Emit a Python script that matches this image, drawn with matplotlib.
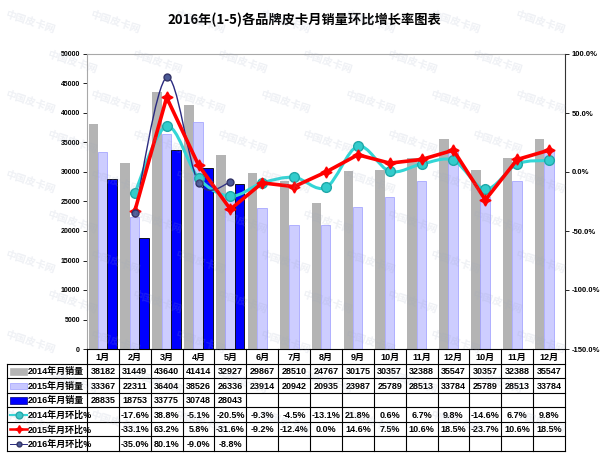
import matplotlib.pyplot as plt
import numpy as np
from matplotlib.path import Path
from matplotlib.patches import PathPatch, Rectangle
from matplotlib.lines import Line2D

plt.rcParams['font.family'] = ['Liberation Sans', 'Noto Sans CJK SC', 'DejaVu Sans']
plt.rcParams['font.weight'] = 'bold'

# data
months = ['1月', '2月', '3月', '4月', '5月', '6月', '7月', '8月', '9月',
          '10月', '11月', '12月', '10月', '11月', '12月']
sales_2014 = [38182, 31449, 43640, 41414, 32927, 29867, 28510, 24767, 30175,
              30357, 32388, 35547, 30357, 32388, 35547]
sales_2015 = [33367, 22311, 36404, 38526, 26336, 23914, 20942, 20935, 23987,
              25789, 28513, 33784, 25789, 28513, 33784]
sales_2016 = [28835, 18753, 33775, 30748, 28043]
mom_2014 = [None, -17.6, 38.8, -5.1, -20.5, -9.3, -4.5, -13.1, 21.8, 0.6,
            6.7, 9.8, -14.6, 6.7, 9.8]
mom_2015 = [None, -33.1, 63.2, 5.8, -31.6, -9.2, -12.4, 0.0, 14.6, 7.5,
            10.6, 18.5, -23.7, 10.6, 18.5]
mom_2016 = [None, -35.0, 80.1, -9.0, -8.8]
row_labels = ['2014年月销量', '2015年月销量', '2016年月销量',
              '2014年月环比%', '2015年月环比%', '2016年月环比%']
title = '2016年(1-5)各品牌皮卡月销量环比增长率图表'

W, H = 600, 458
CAT = (565 - 87) / 15.0


def box(x0, y0, x1, y1):
    return [x0 / W, 1 - y1 / H, (x1 - x0) / W, (y1 - y0) / H]


def smooth_path(xs, ys, t=1 / 6.0):
    # bezier curve through the points (like excel's smoothed line)
    pts = np.column_stack([xs, ys]).astype(float)
    verts = [pts[0]]
    codes = [Path.MOVETO]
    for i in range(len(pts) - 1):
        p0 = pts[max(i - 1, 0)]
        p1 = pts[i]
        p2 = pts[i + 1]
        p3 = pts[min(i + 2, len(pts) - 1)]
        verts += [p1 + (p2 - p0) * t, p2 - (p3 - p1) * t, p2]
        codes += [Path.CURVE4] * 3
    return Path(verts, codes)


fig = plt.figure(figsize=(6, 4.58), dpi=100)
fig.patch.set_facecolor('white')

fig.text(304 / W, 1 - 20 / H, title, ha='center', va='center', fontsize=9.5,
         fontweight='bold', family=['Noto Sans CJK SC', 'DejaVu Sans'])

ax = fig.add_axes(box(87, 54, 565, 349))
ax2 = ax.twinx()
n = len(months)
x = np.arange(n) + 0.5

ax.bar(x - 0.3, sales_2014, 0.3, color='#B4B4B4', zorder=2)
ax.bar(x - 0.01, sales_2015, 0.3, color='#C8C8FF', edgecolor='#A0A0FF',
       linewidth=0.6, alpha=0.9, zorder=3)
ax.bar(x[:len(sales_2016)] + 0.29, sales_2016, 0.3, color='#0000FF',
       edgecolor='black', linewidth=0.6, zorder=4)

ax.set_xlim(0, n)
ax.set_ylim(0, 50000)
ax.set_yticks(range(0, 50001, 5000))
ax.set_xticks([])
ax.tick_params(axis='y', labelsize=5, length=3, width=0.6, pad=2)
for s in ['left', 'top']:
    ax.spines[s].set_color('#A8A8A8')
ax.spines['bottom'].set_visible(False)
ax.spines['right'].set_visible(False)

ax2.set_ylim(-150, 100)
ax2.set_yticks([-150, -100, -50, 0, 50, 100])
ax2.set_yticklabels(['%.1f%%' % v for v in [-150, -100, -50, 0, 50, 100]])
ax2.tick_params(axis='y', labelsize=5.5, length=3, width=0.6, pad=2)
ax2.spines['right'].set_color('#333333')
ax2.spines['left'].set_visible(False)
ax2.spines['top'].set_visible(False)
ax2.spines['bottom'].set_visible(False)

line_styles = [
    (mom_2014, '#33D6D6', 2.2, dict(marker='o', markersize=7, markerfacecolor='#33CCCC',
                                    markeredgecolor='#20A8A8'), True),
    (mom_2015, '#FF0000', 2.6, dict(marker=(4, 1, 0), markersize=8, markerfacecolor='#FF0000',
                                    markeredgecolor='#FF0000'), False),
    (mom_2016, '#2A2A80', 1.0, dict(marker='o', markersize=5, markerfacecolor='#4B5A95',
                                    markeredgecolor='#333366'), True),
]
for vals, col, lw, mk, smooth in line_styles:
    xs = [x[i] for i, v in enumerate(vals) if v is not None]
    ys = [v for v in vals if v is not None]
    if smooth:
        ax2.add_patch(PathPatch(smooth_path(xs, ys), facecolor='none', edgecolor=col,
                                linewidth=lw, zorder=5))
        ax2.plot(xs, ys, linestyle='none', zorder=6, **mk)
    else:
        ax2.plot(xs, ys, color=col, linewidth=lw, zorder=6, **mk)

# data table
tax = fig.add_axes(box(7, 349, 565, 451))
left = -80 / CAT
tax.set_xlim(left, n)
tax.set_ylim(7, 0)
tax.axis('off')
lk = dict(color='black', linewidth=0.8, clip_on=False)
tax.plot([0, n], [0, 0], **lk)
for r in range(1, 8):
    tax.plot([left, n], [r, r], **lk)
for c in range(n + 1):
    tax.plot([c, c], [0, 7], **lk)
tax.plot([left, left], [1, 7], **lk)

fs = 6.5
for i, m in enumerate(months):
    tax.text(i + 0.5, 0.55, m, ha='center', va='center', fontsize=fs)
rows = [sales_2014, sales_2015, sales_2016, mom_2014, mom_2015, mom_2016]
for r, vals in enumerate(rows):
    for i, v in enumerate(vals):
        if v is None:
            continue
        s = '%d' % v if r < 3 else '%.1f%%' % v
        tax.text(i + 0.5, r + 1.55, s, ha='center', va='center', fontsize=fs)

kx0, kx1 = (10 - 87) / CAT, (27 - 87) / CAT
swatches = [('#B4B4B4', '#B4B4B4'), ('#C8C8FF', '#A0A0FF'), ('#0000FF', '#000080')]
for r, (fc, ec) in enumerate(swatches):
    tax.add_patch(Rectangle((kx0, r + 1.3), kx1 - kx0, 0.45, facecolor=fc,
                            edgecolor=ec, linewidth=0.5, clip_on=False))
for r, (vals, col, lw, mk, smooth) in enumerate(line_styles):
    mk2 = dict(mk)
    mk2['markersize'] = mk['markersize'] * 0.7
    tax.add_line(Line2D([kx0, kx1], [r + 4.5, r + 4.5], color=col, linewidth=lw * 0.7,
                        clip_on=False))
    tax.add_line(Line2D([(kx0 + kx1) / 2], [r + 4.5], linestyle='none', clip_on=False, **mk2))
for r, lab in enumerate(row_labels):
    tax.text(kx1 + 0.03, r + 1.55, lab, ha='left', va='center', fontsize=fs)

# watermark, kept inside the canvas
for j, yy in enumerate(range(22, 450, 40)):
    for xx in range(30, 560, 85):
        xo = xx + (42 if j % 2 else 0)
        if xo > 570:
            continue
        fig.text(xo / W, 1 - yy / H, '中国皮卡网', rotation=-18, fontsize=7.5,
                 color='#9AA6C0', alpha=0.16, ha='center', va='center', zorder=20,
                 family=['Noto Sans CJK SC', 'DejaVu Sans'])

fig.savefig('out.png', dpi=100)
